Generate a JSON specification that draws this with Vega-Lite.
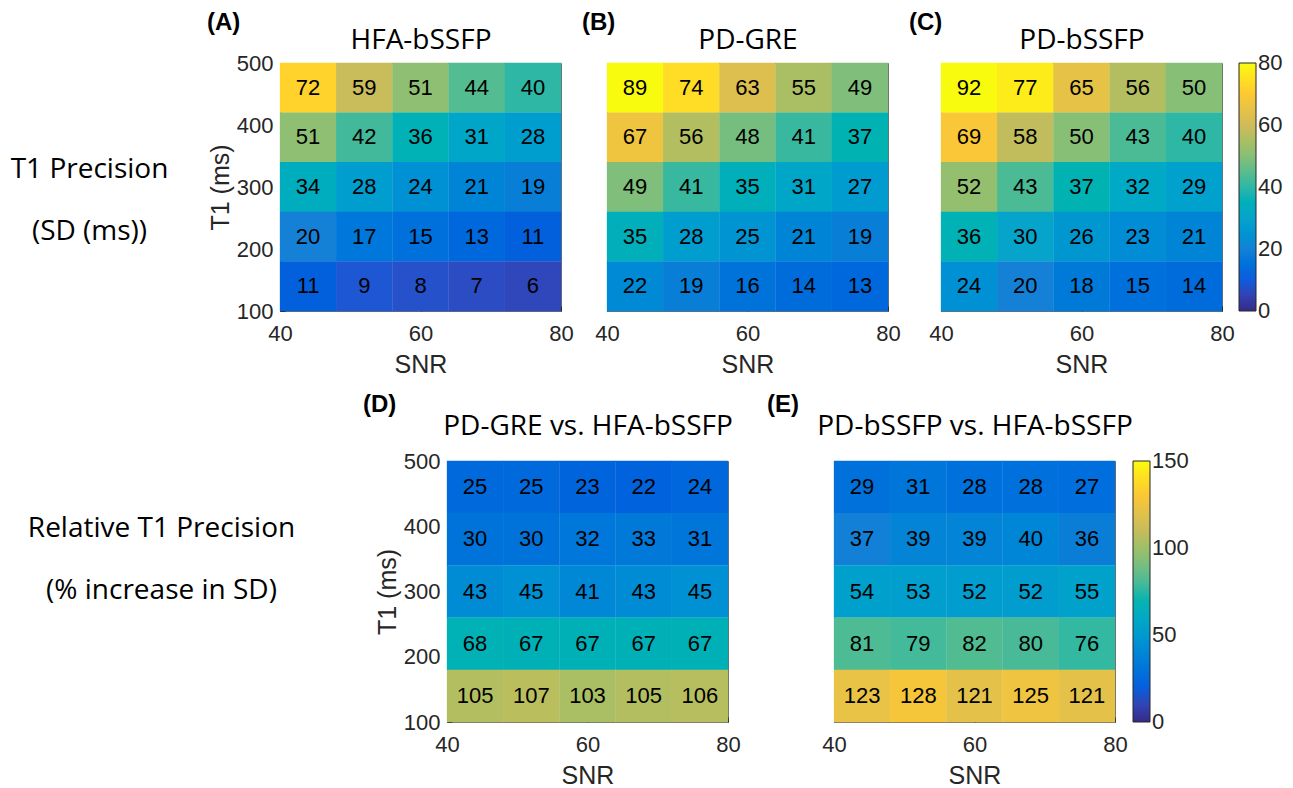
{
  "$schema": "https://vega.github.io/schema/vega-lite/v6.json",
  "padding": {"top": 10, "left": 0, "right": 0, "bottom": 0},
  "background": "white",
  "datasets": {
    "hfa": [
      {"snr": 44, "t1": 460, "v": 72}, {"snr": 52, "t1": 460, "v": 59}, {"snr": 60, "t1": 460, "v": 51}, {"snr": 68, "t1": 460, "v": 44}, {"snr": 76, "t1": 460, "v": 40},
      {"snr": 44, "t1": 380, "v": 51}, {"snr": 52, "t1": 380, "v": 42}, {"snr": 60, "t1": 380, "v": 36}, {"snr": 68, "t1": 380, "v": 31}, {"snr": 76, "t1": 380, "v": 28},
      {"snr": 44, "t1": 300, "v": 34}, {"snr": 52, "t1": 300, "v": 28}, {"snr": 60, "t1": 300, "v": 24}, {"snr": 68, "t1": 300, "v": 21}, {"snr": 76, "t1": 300, "v": 19},
      {"snr": 44, "t1": 220, "v": 20}, {"snr": 52, "t1": 220, "v": 17}, {"snr": 60, "t1": 220, "v": 15}, {"snr": 68, "t1": 220, "v": 13}, {"snr": 76, "t1": 220, "v": 11},
      {"snr": 44, "t1": 140, "v": 11}, {"snr": 52, "t1": 140, "v": 9}, {"snr": 60, "t1": 140, "v": 8}, {"snr": 68, "t1": 140, "v": 7}, {"snr": 76, "t1": 140, "v": 6}
    ],
    "gre": [
      {"snr": 44, "t1": 460, "v": 89}, {"snr": 52, "t1": 460, "v": 74}, {"snr": 60, "t1": 460, "v": 63}, {"snr": 68, "t1": 460, "v": 55}, {"snr": 76, "t1": 460, "v": 49},
      {"snr": 44, "t1": 380, "v": 67}, {"snr": 52, "t1": 380, "v": 56}, {"snr": 60, "t1": 380, "v": 48}, {"snr": 68, "t1": 380, "v": 41}, {"snr": 76, "t1": 380, "v": 37},
      {"snr": 44, "t1": 300, "v": 49}, {"snr": 52, "t1": 300, "v": 41}, {"snr": 60, "t1": 300, "v": 35}, {"snr": 68, "t1": 300, "v": 31}, {"snr": 76, "t1": 300, "v": 27},
      {"snr": 44, "t1": 220, "v": 35}, {"snr": 52, "t1": 220, "v": 28}, {"snr": 60, "t1": 220, "v": 25}, {"snr": 68, "t1": 220, "v": 21}, {"snr": 76, "t1": 220, "v": 19},
      {"snr": 44, "t1": 140, "v": 22}, {"snr": 52, "t1": 140, "v": 19}, {"snr": 60, "t1": 140, "v": 16}, {"snr": 68, "t1": 140, "v": 14}, {"snr": 76, "t1": 140, "v": 13}
    ],
    "bssfp": [
      {"snr": 44, "t1": 460, "v": 92}, {"snr": 52, "t1": 460, "v": 77}, {"snr": 60, "t1": 460, "v": 65}, {"snr": 68, "t1": 460, "v": 56}, {"snr": 76, "t1": 460, "v": 50},
      {"snr": 44, "t1": 380, "v": 69}, {"snr": 52, "t1": 380, "v": 58}, {"snr": 60, "t1": 380, "v": 50}, {"snr": 68, "t1": 380, "v": 43}, {"snr": 76, "t1": 380, "v": 40},
      {"snr": 44, "t1": 300, "v": 52}, {"snr": 52, "t1": 300, "v": 43}, {"snr": 60, "t1": 300, "v": 37}, {"snr": 68, "t1": 300, "v": 32}, {"snr": 76, "t1": 300, "v": 29},
      {"snr": 44, "t1": 220, "v": 36}, {"snr": 52, "t1": 220, "v": 30}, {"snr": 60, "t1": 220, "v": 26}, {"snr": 68, "t1": 220, "v": 23}, {"snr": 76, "t1": 220, "v": 21},
      {"snr": 44, "t1": 140, "v": 24}, {"snr": 52, "t1": 140, "v": 20}, {"snr": 60, "t1": 140, "v": 18}, {"snr": 68, "t1": 140, "v": 15}, {"snr": 76, "t1": 140, "v": 14}
    ],
    "relgre": [
      {"snr": 44, "t1": 460, "v": 25}, {"snr": 52, "t1": 460, "v": 25}, {"snr": 60, "t1": 460, "v": 23}, {"snr": 68, "t1": 460, "v": 22}, {"snr": 76, "t1": 460, "v": 24},
      {"snr": 44, "t1": 380, "v": 30}, {"snr": 52, "t1": 380, "v": 30}, {"snr": 60, "t1": 380, "v": 32}, {"snr": 68, "t1": 380, "v": 33}, {"snr": 76, "t1": 380, "v": 31},
      {"snr": 44, "t1": 300, "v": 43}, {"snr": 52, "t1": 300, "v": 45}, {"snr": 60, "t1": 300, "v": 41}, {"snr": 68, "t1": 300, "v": 43}, {"snr": 76, "t1": 300, "v": 45},
      {"snr": 44, "t1": 220, "v": 68}, {"snr": 52, "t1": 220, "v": 67}, {"snr": 60, "t1": 220, "v": 67}, {"snr": 68, "t1": 220, "v": 67}, {"snr": 76, "t1": 220, "v": 67},
      {"snr": 44, "t1": 140, "v": 105}, {"snr": 52, "t1": 140, "v": 107}, {"snr": 60, "t1": 140, "v": 103}, {"snr": 68, "t1": 140, "v": 105}, {"snr": 76, "t1": 140, "v": 106}
    ],
    "relbssfp": [
      {"snr": 44, "t1": 460, "v": 29}, {"snr": 52, "t1": 460, "v": 31}, {"snr": 60, "t1": 460, "v": 28}, {"snr": 68, "t1": 460, "v": 28}, {"snr": 76, "t1": 460, "v": 27},
      {"snr": 44, "t1": 380, "v": 37}, {"snr": 52, "t1": 380, "v": 39}, {"snr": 60, "t1": 380, "v": 39}, {"snr": 68, "t1": 380, "v": 40}, {"snr": 76, "t1": 380, "v": 36},
      {"snr": 44, "t1": 300, "v": 54}, {"snr": 52, "t1": 300, "v": 53}, {"snr": 60, "t1": 300, "v": 52}, {"snr": 68, "t1": 300, "v": 52}, {"snr": 76, "t1": 300, "v": 55},
      {"snr": 44, "t1": 220, "v": 81}, {"snr": 52, "t1": 220, "v": 79}, {"snr": 60, "t1": 220, "v": 82}, {"snr": 68, "t1": 220, "v": 80}, {"snr": 76, "t1": 220, "v": 76},
      {"snr": 44, "t1": 140, "v": 123}, {"snr": 52, "t1": 140, "v": 128}, {"snr": 60, "t1": 140, "v": 121}, {"snr": 68, "t1": 140, "v": 125}, {"snr": 76, "t1": 140, "v": 121}
    ],
    "lab1": [{"label": "T1 Precision\n(SD (ms))"}],
    "lab2": [{"label": "Relative T1 Precision\n(% increase in SD)"}]
  },
  "config": {
    "view": {"stroke": "#6e6e6e", "strokeWidth": 1},
    "axis": {
      "labelFont": "Liberation Sans", "labelFontSize": 22, "labelColor": "#262626",
      "titleFont": "Liberation Sans", "titleFontSize": 25, "titleFontWeight": "normal", "titleColor": "#262626",
      "grid": false, "domain": false, "tickColor": "#262626", "tickSize": -5, "tickWidth": 1,
      "labelFlush": false, "labelOverlap": false, "labelBound": false, "zindex": 1
    },
    "axisX": {"labelPadding": 17, "titlePadding": 8},
    "axisY": {"labelPadding": 12, "titlePadding": 3},
    "title": {"font": "Liberation Sans", "fontWeight": "bold", "fontSize": 24, "color": "black", "anchor": "start", "frame": "group", "baseline": "bottom"},
    "legend": {"labelFont": "Liberation Sans", "labelFontSize": 22, "labelColor": "#262626", "labelOffset": 6, "gradientStrokeColor": "#262626", "gradientStrokeWidth": 1, "padding": 0, "labelOverlap": false, "gradientThickness": 17, "orient": "right", "direction": "vertical"}
  },
  "vconcat": [
    {
      "spacing": 7,
      "resolve": {"scale": {"color": "independent", "x": "independent", "y": "independent"}, "legend": {"color": "independent"}},
      "hconcat": [
        {
          "width": 199, "height": 248,
          "view": {"stroke": null},
          "data": {"name": "lab1"},
          "mark": {"type": "text", "font": "Open Sans", "fontSize": 28, "color": "black", "lineBreak": "\n", "lineHeight": 62, "align": "center", "baseline": "middle", "dx": -10, "dy": -17},
          "encoding": {"text": {"field": "label", "type": "nominal"}}
        },
        {
          "width": 281, "height": 248,
          "data": {"name": "hfa"},
          "title": {"text": "(A)", "dx": -73, "offset": -8},
          "layer": [
            {
              "mark": {"type": "rect", "width": 56.5, "height": 49.9},
              "encoding": {
                "x": {"field": "snr", "type": "quantitative", "title": "SNR", "scale": {"domain": [40, 80], "nice": false, "zero": false}, "axis": {"values": [40, 60, 80]}},
                "y": {"field": "t1", "type": "quantitative", "title": "T1 (ms)", "scale": {"domain": [100, 500], "nice": false, "zero": false}, "axis": {"values": [100, 200, 300, 400, 500]}},
                "color": {"field": "v", "type": "quantitative", "scale": {"domain": [0, 10, 20, 30, 40, 50, 60, 70, 80], "range": ["#352a87", "#0f5cdd", "#1481d6", "#06a4ca", "#2eb7a4", "#87bf77", "#d1bb59", "#fec832", "#f9fb0e"], "clamp": true}, "legend": null}
              }
            },
            {
              "mark": {"type": "text", "font": "Liberation Sans", "fontSize": 22, "color": "black"},
              "encoding": {
                "x": {"field": "snr", "type": "quantitative", "title": "HFA-bSSFP", "axis": {"orient": "top", "labels": false, "values": [60], "titleFont": "Open Sans", "titleFontSize": 28, "titleColor": "black", "titlePadding": 8}},
                "y": {"field": "t1", "type": "quantitative", "title": "T1 (ms)"},
                "text": {"field": "v", "type": "quantitative"}
              }
            }
          ],
          "resolve": {"axis": {"x": "independent"}}
        },
        {
          "width": 281, "height": 248,
          "data": {"name": "gre"},
          "title": {"text": "(B)", "dx": -25, "offset": -8},
          "layer": [
            {
              "mark": {"type": "rect", "width": 56.5, "height": 49.9},
              "encoding": {
                "x": {"field": "snr", "type": "quantitative", "title": "SNR", "scale": {"domain": [40, 80], "nice": false, "zero": false}, "axis": {"values": [40, 60, 80]}},
                "y": {"field": "t1", "type": "quantitative", "title": null, "scale": {"domain": [100, 500], "nice": false, "zero": false}, "axis": {"values": [200, 300, 400], "labels": false}},
                "color": {"field": "v", "type": "quantitative", "scale": {"domain": [0, 10, 20, 30, 40, 50, 60, 70, 80], "range": ["#352a87", "#0f5cdd", "#1481d6", "#06a4ca", "#2eb7a4", "#87bf77", "#d1bb59", "#fec832", "#f9fb0e"], "clamp": true}, "legend": null}
              }
            },
            {
              "mark": {"type": "text", "font": "Liberation Sans", "fontSize": 22, "color": "black"},
              "encoding": {
                "x": {"field": "snr", "type": "quantitative", "title": "PD-GRE", "axis": {"orient": "top", "labels": false, "values": [60], "titleFont": "Open Sans", "titleFontSize": 28, "titleColor": "black", "titlePadding": 8}},
                "y": {"field": "t1", "type": "quantitative", "title": null},
                "text": {"field": "v", "type": "quantitative"}
              }
            }
          ],
          "resolve": {"axis": {"x": "independent"}}
        },
        {
          "width": 281, "height": 248,
          "data": {"name": "bssfp"},
          "title": {"text": "(C)", "dx": -32, "offset": -8},
          "layer": [
            {
              "mark": {"type": "rect", "width": 56.5, "height": 49.9},
              "encoding": {
                "x": {"field": "snr", "type": "quantitative", "title": "SNR", "scale": {"domain": [40, 80], "nice": false, "zero": false}, "axis": {"values": [40, 60, 80]}},
                "y": {"field": "t1", "type": "quantitative", "title": null, "scale": {"domain": [100, 500], "nice": false, "zero": false}, "axis": {"values": [200, 300, 400], "labels": false}},
                "color": {"field": "v", "type": "quantitative", "scale": {"domain": [0, 10, 20, 30, 40, 50, 60, 70, 80], "range": ["#352a87", "#0f5cdd", "#1481d6", "#06a4ca", "#2eb7a4", "#87bf77", "#d1bb59", "#fec832", "#f9fb0e"], "clamp": true}, "legend": {"title": null, "values": [0, 20, 40, 60, 80], "offset": 17, "gradientLength": 248, "encode": {"labels": {"enter": {"baseline": {"value": "middle"}}, "update": {"baseline": {"value": "middle"}}}}}}
              }
            },
            {
              "mark": {"type": "text", "font": "Liberation Sans", "fontSize": 22, "color": "black"},
              "encoding": {
                "x": {"field": "snr", "type": "quantitative", "title": "PD-bSSFP", "axis": {"orient": "top", "labels": false, "values": [60], "titleFont": "Open Sans", "titleFontSize": 28, "titleColor": "black", "titlePadding": 8}},
                "y": {"field": "t1", "type": "quantitative", "title": null},
                "text": {"field": "v", "type": "quantitative"}
              }
            }
          ],
          "resolve": {"axis": {"x": "independent"}}
        }
      ]
    },
    {
      "spacing": 25,
      "resolve": {"scale": {"color": "independent", "x": "independent", "y": "independent"}, "legend": {"color": "independent"}},
      "hconcat": [
        {
          "width": 337, "height": 261,
          "view": {"stroke": null},
          "data": {"name": "lab2"},
          "mark": {"type": "text", "font": "Open Sans", "fontSize": 28, "color": "black", "lineBreak": "\n", "lineHeight": 62, "align": "center", "baseline": "middle", "dx": -7, "dy": -63},
          "encoding": {"text": {"field": "label", "type": "nominal"}}
        },
        {
          "width": 281, "height": 261,
          "data": {"name": "relgre"},
          "title": {"text": "(D)", "dx": -84, "offset": -4},
          "layer": [
            {
              "mark": {"type": "rect", "width": 56.5, "height": 52.5},
              "encoding": {
                "x": {"field": "snr", "type": "quantitative", "title": "SNR", "scale": {"domain": [40, 80], "nice": false, "zero": false}, "axis": {"values": [40, 60, 80]}},
                "y": {"field": "t1", "type": "quantitative", "title": "T1 (ms)", "scale": {"domain": [100, 500], "nice": false, "zero": false}, "axis": {"values": [100, 200, 300, 400, 500]}},
                "color": {"field": "v", "type": "quantitative", "scale": {"domain": [0, 18.75, 37.5, 56.25, 75, 93.75, 112.5, 131.25, 150], "range": ["#352a87", "#0f5cdd", "#1481d6", "#06a4ca", "#2eb7a4", "#87bf77", "#d1bb59", "#fec832", "#f9fb0e"], "clamp": true}, "legend": null}
              }
            },
            {
              "mark": {"type": "text", "font": "Liberation Sans", "fontSize": 22, "color": "black"},
              "encoding": {
                "x": {"field": "snr", "type": "quantitative", "title": "PD-GRE vs. HFA-bSSFP", "axis": {"orient": "top", "labels": false, "values": [60], "titleFont": "Open Sans", "titleFontSize": 28, "titleColor": "black", "titlePadding": 20}},
                "y": {"field": "t1", "type": "quantitative", "title": "T1 (ms)"},
                "text": {"field": "v", "type": "quantitative"}
              }
            }
          ],
          "resolve": {"axis": {"x": "independent"}}
        },
        {
          "width": 281, "height": 261,
          "data": {"name": "relbssfp"},
          "title": {"text": "(E)", "dx": -67, "offset": -4},
          "layer": [
            {
              "mark": {"type": "rect", "width": 56.5, "height": 52.5},
              "encoding": {
                "x": {"field": "snr", "type": "quantitative", "title": "SNR", "scale": {"domain": [40, 80], "nice": false, "zero": false}, "axis": {"values": [40, 60, 80]}},
                "y": {"field": "t1", "type": "quantitative", "title": null, "scale": {"domain": [100, 500], "nice": false, "zero": false}, "axis": {"values": [200, 300, 400], "labels": false}},
                "color": {"field": "v", "type": "quantitative", "scale": {"domain": [0, 18.75, 37.5, 56.25, 75, 93.75, 112.5, 131.25, 150], "range": ["#352a87", "#0f5cdd", "#1481d6", "#06a4ca", "#2eb7a4", "#87bf77", "#d1bb59", "#fec832", "#f9fb0e"], "clamp": true}, "legend": {"title": null, "values": [0, 50, 100, 150], "offset": 18, "gradientLength": 261, "encode": {"labels": {"enter": {"baseline": {"value": "middle"}}, "update": {"baseline": {"value": "middle"}}}}}}
              }
            },
            {
              "mark": {"type": "text", "font": "Liberation Sans", "fontSize": 22, "color": "black"},
              "encoding": {
                "x": {"field": "snr", "type": "quantitative", "title": "PD-bSSFP vs. HFA-bSSFP", "axis": {"orient": "top", "labels": false, "values": [60], "titleFont": "Open Sans", "titleFontSize": 28, "titleColor": "black", "titlePadding": 20}},
                "y": {"field": "t1", "type": "quantitative", "title": null},
                "text": {"field": "v", "type": "quantitative"}
              }
            }
          ],
          "resolve": {"axis": {"x": "independent"}}
        }
      ]
    }
  ],
  "spacing": 14,
  "resolve": {"scale": {"color": "independent", "x": "independent", "y": "independent"}, "legend": {"color": "independent"}}
}
